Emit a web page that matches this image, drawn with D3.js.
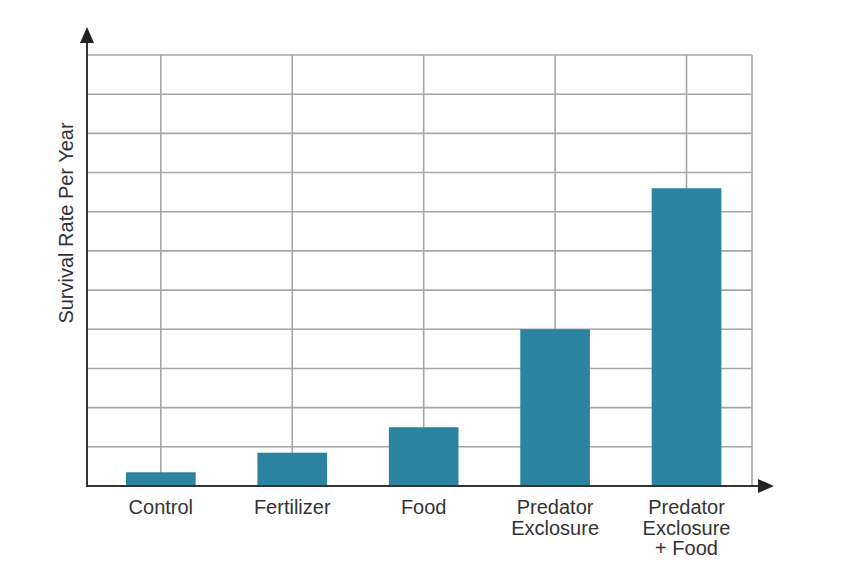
<!DOCTYPE html>
<html>
<head>
<meta charset="utf-8">
<script src="https://cdn.jsdelivr.net/npm/d3@7"></script>
<style>
  html, body { margin: 0; padding: 0; background: #fff; }
  svg { display: block; }
  text { font-family: "Liberation Sans", Arial, sans-serif; fill: #333; }
</style>
</head>
<body>
<svg id="chart" width="865" height="572"></svg>
<script>
const categories = ["Control", "Fertilizer", "Food", "Predator Exclosure", "Predator Exclosure + Food"];
const categoryLines = [["Control"], ["Fertilizer"], ["Food"], ["Predator", "Exclosure"], ["Predator", "Exclosure", "+ Food"]];
const survivalValues = [0.35, 0.85, 1.5, 4.0, 7.6];
const yTicks = [0, 1, 2, 3, 4, 5, 6, 7, 8, 9, 10, 11];
const yLabel = "Survival Rate Per Year";

(function () {
const svg = d3.select("#chart");
const plotLeft = 87, plotRight = 752, plotTop = 55, plotBottom = 486;

const x = d3.scalePoint().domain(categories).range([plotLeft, plotRight]).padding(0.53).align(0.53);
const y = d3.scaleLinear().domain([0, 11]).range([plotBottom, plotTop]);
const barW = x.step() * 0.53;

const gridColor = "#a6a6a6";
const axisColor = "#333";

// horizontal grid lines
svg.append("g").selectAll("line").data(yTicks.filter(t => t > 0)).join("line")
  .attr("x1", plotLeft).attr("x2", plotRight)
  .attr("y1", d => y(d)).attr("y2", d => y(d))
  .attr("stroke", gridColor).attr("stroke-width", 1.6);

// vertical grid lines through category centers
svg.append("g").selectAll("line").data(categories).join("line")
  .attr("x1", d => x(d)).attr("x2", d => x(d))
  .attr("y1", plotTop).attr("y2", plotBottom)
  .attr("stroke", gridColor).attr("stroke-width", 1.6);

// right border
svg.append("line")
  .attr("x1", plotRight).attr("x2", plotRight).attr("y1", plotTop).attr("y2", plotBottom)
  .attr("stroke", gridColor).attr("stroke-width", 1.6);

// bars
svg.append("g").selectAll("rect").data(categories).join("rect")
  .attr("x", d => x(d) - barW / 2)
  .attr("width", barW)
  .attr("y", (d, i) => y(survivalValues[i]))
  .attr("height", (d, i) => y(0) - y(survivalValues[i]))
  .attr("fill", "#2a84a0");

// axes
svg.append("line").attr("x1", plotLeft).attr("x2", plotLeft).attr("y1", plotBottom + 1).attr("y2", 38)
  .attr("stroke", axisColor).attr("stroke-width", 2);
svg.append("line").attr("x1", plotLeft - 1).attr("x2", 762).attr("y1", plotBottom).attr("y2", plotBottom)
  .attr("stroke", axisColor).attr("stroke-width", 2);

// arrowheads
svg.append("path").attr("d", `M${plotLeft},27 L${plotLeft + 7},43 L${plotLeft - 7},43 Z`).attr("fill", "#222");
svg.append("path").attr("d", `M774,${plotBottom} L758,${plotBottom - 7} L758,${plotBottom + 7} Z`).attr("fill", "#222");

// category labels
const labels = svg.append("g").selectAll("text").data(categories).join("text")
  .attr("x", d => x(d))
  .attr("y", 514)
  .attr("text-anchor", "middle")
  .attr("font-size", 20);
labels.selectAll("tspan").data((d, i) => categoryLines[i]).join("tspan")
  .attr("x", function () { return d3.select(this.parentNode).attr("x"); })
  .attr("dy", (d, i) => i === 0 ? 0 : 20.5)
  .text(d => d);

// y label
svg.append("text")
  .attr("transform", `translate(73,${(121 + 325) / 2}) rotate(-90)`)
  .attr("text-anchor", "middle")
  .attr("font-size", 20)
  .text(yLabel);
})();
</script>
</body>
</html>
